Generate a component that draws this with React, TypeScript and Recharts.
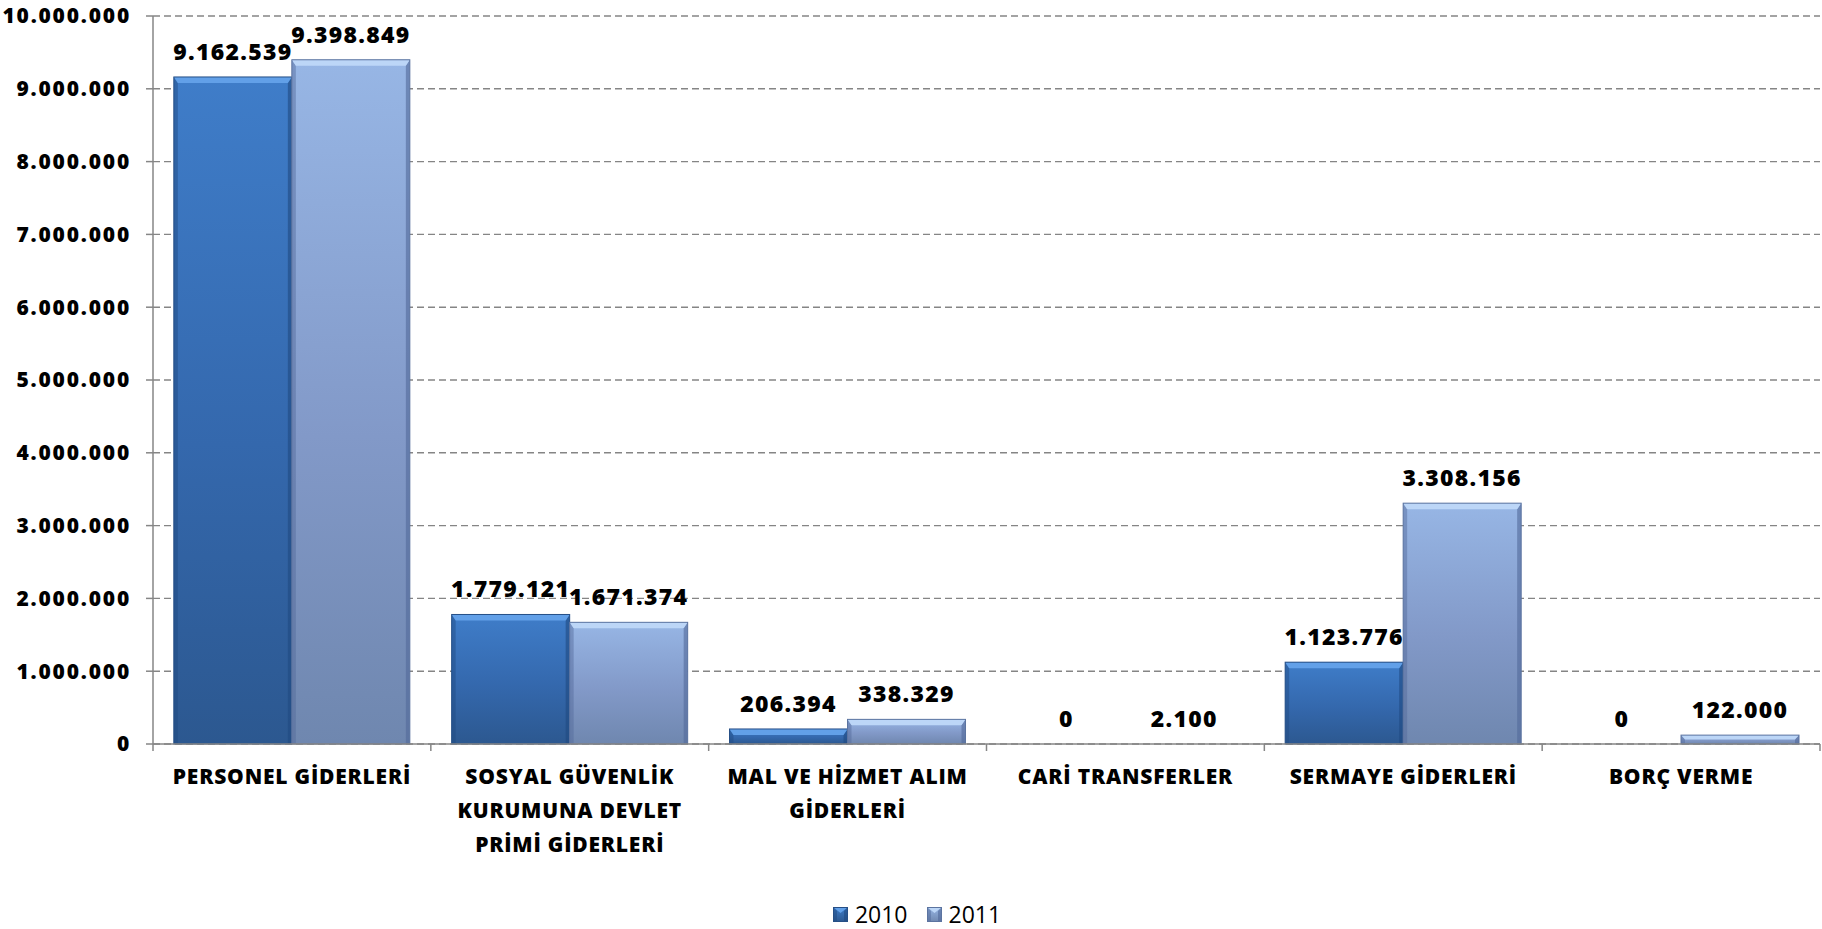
import React from 'react';
import { BarChart, Bar, XAxis, YAxis, CartesianGrid, Legend, LabelList } from 'recharts';

const categories = [
  'PERSONEL GİDERLERİ',
  'SOSYAL GÜVENLİK\nKURUMUNA DEVLET\nPRİMİ GİDERLERİ',
  'MAL VE HİZMET ALIM\nGİDERLERİ',
  'CARİ TRANSFERLER',
  'SERMAYE GİDERLERİ',
  'BORÇ VERME',
];
const values2010 = [9162539, 1779121, 206394, 0, 1123776, 0];
const values2011 = [9398849, 1671374, 338329, 2100, 3308156, 122000];
const yTicks = [0, 1000000, 2000000, 3000000, 4000000, 5000000, 6000000, 7000000, 8000000, 9000000, 10000000];
const seriesNames = ['2010', '2011'];

const data = categories.map((c, i) => ({ category: c, v2010: values2010[i], v2011: values2011[i] }));

const WIDTH = 1822;
const HEIGHT = 929;
const MARGIN = { top: 16, right: 2, bottom: 0, left: 0 };
const Y_AXIS_W = 153;
const BAND = (WIDTH - Y_AXIS_W - MARGIN.left - MARGIN.right) / categories.length;
const AXIS_COLOR = '#868686';
const FONT = '"Open Sans", "Liberation Sans", sans-serif';

const seriesStyle = [
  { key: 'v2010', id: 'b2010', top: '#62a0e8', side: '#1f4a80', edge: '#264f86', stops: ['#3f7dc9', '#3468ad', '#2c5890'] },
  { key: 'v2011', id: 'b2011', top: '#bcd6f7', side: '#52699a', edge: '#5c74a0', stops: ['#97b6e5', '#8299c8', '#6f87af'] },
];

const fmt = (v: number) => String(v).replace(/\B(?=(\d{3})+(?!\d))/g, '.');

const bevel = (x: number, y: number, w: number, h: number, s: any) => {
  if (!(h >= 1) || !(w > 0)) return null;
  const bt = Math.min(6, h / 2);
  const bs = Math.min(4, w / 2);
  return (
    <g>
      <rect x={x} y={y} width={w} height={h} fill={`url(#${s.id})`} />
      <polygon points={`${x},${y} ${x + bs},${y + bt} ${x + bs},${y + h} ${x},${y + h}`} fill={s.side} opacity={0.45} />
      <polygon points={`${x + w},${y} ${x + w - bs},${y + bt} ${x + w - bs},${y + h} ${x + w},${y + h}`} fill={s.side} opacity={0.6} />
      <polygon points={`${x},${y} ${x + w},${y} ${x + w - bs},${y + bt} ${x + bs},${y + bt}`} fill={s.top} />
      <rect x={x} y={y} width={w} height={h} fill="none" stroke={s.edge} strokeWidth={1} />
    </g>
  );
};

const makeShape = (idx: number) => (props: any) => {
  const { x, y, width, height } = props;
  return bevel(x, y, width, height, seriesStyle[idx]);
};

const ValueLabel = (props: any) => {
  const vb = props.viewBox || {};
  const x = props.x ?? vb.x;
  const y = props.y ?? vb.y;
  const w = props.width ?? vb.width;
  if (x == null || y == null) return null;
  return (
    <text
      x={x + w / 2}
      y={y - 17}
      textAnchor="middle"
      fill="#000"
      style={{ fontFamily: FONT, fontSize: 23, fontWeight: 800, letterSpacing: 1.3 }}
    >
      {fmt(Number(props.value))}
    </text>
  );
};

const CategoryTick = (props: any) => {
  const { x, y, payload, index } = props;
  const lines = String(payload.value).split('\n');
  return (
    <g>
      <line x1={x - BAND / 2} x2={x - BAND / 2} y1={y} y2={y + 7} stroke={AXIS_COLOR} strokeWidth={1.5} />
      {index === categories.length - 1 && (
        <line x1={x + BAND / 2} x2={x + BAND / 2} y1={y} y2={y + 7} stroke={AXIS_COLOR} strokeWidth={1.5} />
      )}
      <text
        x={x}
        y={y + 40}
        textAnchor="middle"
        fill="#000"
        style={{ fontFamily: FONT, fontSize: 21, fontWeight: 800, letterSpacing: 0.8 }}
      >
        {lines.map((l, i) => (
          <tspan key={i} x={x} dy={i === 0 ? 0 : 34}>
            {l}
          </tspan>
        ))}
      </text>
    </g>
  );
};

const LegendIcon = ({ s }: { s: any }) => (
  <svg width={15} height={15} style={{ display: 'block' }}>
    <defs>
      <linearGradient id={`lg-${s.id}`} x1="0" y1="0" x2="0" y2="1">
        <stop offset="0%" stopColor={s.stops[0]} />
        <stop offset="100%" stopColor={s.stops[2]} />
      </linearGradient>
    </defs>
    <rect x={0} y={0} width={15} height={15} fill={`url(#lg-${s.id})`} />
    <polygon points="0,0 15,0 7.5,6 " fill={s.top} />
    <polygon points="0,0 4,4 4,15 0,15" fill={s.side} opacity={0.5} />
    <polygon points="15,0 11,4 11,15 15,15" fill={s.side} opacity={0.6} />
    <rect x={0.5} y={0.5} width={14} height={14} fill="none" stroke={s.edge} strokeWidth={1} />
  </svg>
);

const renderLegend = () => (
  <div
    style={{
      display: 'flex',
      justifyContent: 'center',
      alignItems: 'center',
      height: 30,
      paddingLeft: 14,
      fontFamily: FONT,
      fontSize: 23,
      color: '#000',
    }}
  >
    {seriesNames.map((n, i) => (
      <div key={n} style={{ display: 'flex', alignItems: 'center', marginLeft: i === 0 ? 0 : 19 }}>
        <LegendIcon s={seriesStyle[i]} />
        <span style={{ marginLeft: 7, lineHeight: '30px' }}>{n}</span>
      </div>
    ))}
  </div>
);

export default function App() {
  return (
    <div style={{ position: 'absolute', top: 0, left: 0, width: WIDTH, height: HEIGHT, background: '#fff' }}>
      <BarChart width={WIDTH} height={HEIGHT} data={data} margin={MARGIN} barCategoryGap="7.5%" barGap={0}>
        <defs>
          {seriesStyle.map((s) => (
            <linearGradient key={s.id} id={s.id} x1="0" y1="0" x2="0" y2="1">
              <stop offset="0%" stopColor={s.stops[0]} />
              <stop offset="55%" stopColor={s.stops[1]} />
              <stop offset="100%" stopColor={s.stops[2]} />
            </linearGradient>
          ))}
        </defs>
        <CartesianGrid vertical={false} stroke="#858585" strokeWidth={1.4} strokeDasharray="7 4" />
        <XAxis
          dataKey="category"
          interval={0}
          height={155}
          tickLine={false}
          tickSize={0}
          tickMargin={0}
          axisLine={{ stroke: AXIS_COLOR, strokeWidth: 1.5 }}
          tick={<CategoryTick />}
        />
        <YAxis
          width={Y_AXIS_W}
          domain={[0, 10000000]}
          ticks={yTicks}
          interval={0}
          tickFormatter={fmt}
          tickSize={7}
          tickMargin={15}
          axisLine={{ stroke: AXIS_COLOR, strokeWidth: 1.5 }}
          tickLine={{ stroke: AXIS_COLOR, strokeWidth: 1.5 }}
          tick={{ fill: '#000', fontSize: 21, fontWeight: 800, fontFamily: FONT, letterSpacing: 1.8 }}
        />
        <Legend verticalAlign="bottom" height={30} content={renderLegend} />
        {seriesStyle.map((s, i) => (
          <Bar key={s.key} dataKey={s.key} name={seriesNames[i]} fill={s.stops[1]} shape={makeShape(i)} isAnimationActive={false}>
            <LabelList dataKey={s.key} content={<ValueLabel />} />
          </Bar>
        ))}
      </BarChart>
    </div>
  );
}
